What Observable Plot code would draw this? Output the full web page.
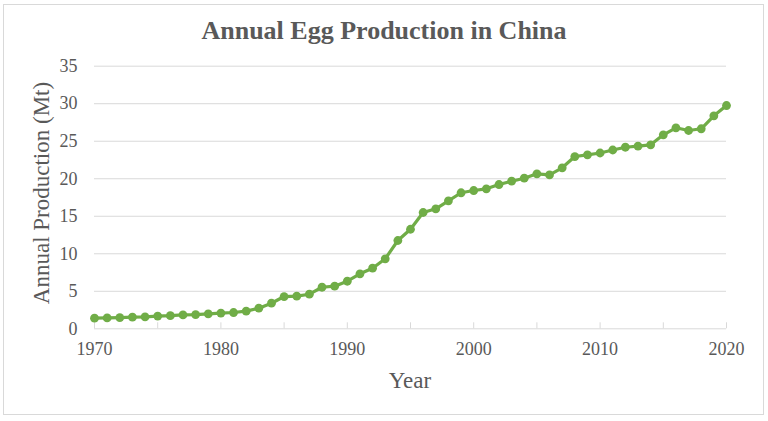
<!DOCTYPE html>
<html>
<head>
<meta charset="utf-8">
<script src="https://cdn.jsdelivr.net/npm/d3@7"></script>
<script src="https://cdn.jsdelivr.net/npm/@observablehq/plot@0.6"></script>
<style>
  html, body { margin: 0; padding: 0; background: #fff; }
  #wrap { position: relative; width: 768px; height: 421px; overflow: hidden; background: #fff; font-family: "Liberation Serif", "Times New Roman", serif; }
  #frame { position: absolute; left: 3px; top: 4px; width: 761px; height: 411px; border: 1px solid #d9d9d9; box-sizing: border-box; }
  #title { position: absolute; left: 0; width: 768px; top: 15px; text-align: center; font-size: 26px; font-weight: bold; color: #595959; line-height: 32px; }
  #ylabel { position: absolute; left: 42px; top: 193px; transform: translate(-50%, -50%) rotate(-90deg); white-space: nowrap; font-size: 23px; color: #595959; }
  #xlabel { position: absolute; left: 410px; top: 381px; transform: translate(-50%, -50%); font-size: 23px; color: #595959; }
  #chart { position: absolute; left: 0; top: 0; }
</style>
</head>
<body>
<div id="wrap">
  <div id="frame"></div>
  <div id="chart"></div>
  <div id="title">Annual Egg Production in China</div>
  <div id="ylabel">Annual Production (Mt)</div>
  <div id="xlabel">Year</div>
</div>
<script>
const years = d3.range(1970, 2021);
const production = [
  1.42, 1.45, 1.50, 1.55, 1.60, 1.70, 1.75, 1.85, 1.90, 2.00,
  2.10, 2.17, 2.35, 2.75, 3.41, 4.30, 4.35, 4.61, 5.54, 5.68,
  6.34, 7.33, 8.08, 9.33, 11.77, 13.27, 15.50, 15.99, 17.06, 18.13,
  18.43, 18.66, 19.23, 19.67, 20.07, 20.66, 20.52, 21.46, 22.96, 23.19,
  23.43, 23.83, 24.20, 24.34, 24.52, 25.86, 26.79, 26.43, 26.66, 28.39,
  29.76
];
const yTicks = [0, 5, 10, 15, 20, 25, 30, 35];
const xLabelTicks = [1970, 1980, 1990, 2000, 2010, 2020];
const xMinorTicks = [1970, 1975, 1980, 1985, 1990, 1995, 2000, 2005, 2010, 2015, 2020];

const data = years.map((y, i) => ({year: y, value: production[i]}));
const green = "#70ad47";
const gray = "#595959";
const grid = "#d9d9d9";

const chart = Plot.plot({
  width: 768,
  height: 421,
  marginLeft: 94,
  marginRight: 42,
  marginTop: 65.7,
  marginBottom: 92.7,
  style: {fontFamily: "'Liberation Serif', 'Times New Roman', serif", background: "transparent", color: gray},
  x: {domain: [1970, 2020]},
  y: {domain: [0, 35]},
  marks: [
    Plot.gridY(yTicks, {stroke: grid, strokeOpacity: 1, strokeWidth: 1}),
    Plot.ruleX(xMinorTicks, {x: d => d, y1: 0, y2: 0.8, stroke: grid, strokeWidth: 1}),
    Plot.axisX(xLabelTicks, {tickSize: 0, tickPadding: 13, tickFormat: "d", fontSize: 18, fill: gray, label: null}),
    Plot.axisY(yTicks, {tickSize: 0, tickPadding: 17, fontSize: 18, fill: gray, label: null}),
    Plot.line(data, {x: "year", y: "value", stroke: green, strokeWidth: 3.2}),
    Plot.dot(data, {x: "year", y: "value", r: 4.4, fill: green, stroke: "none"})
  ]
});
document.getElementById("chart").appendChild(chart);
</script>
</body>
</html>
